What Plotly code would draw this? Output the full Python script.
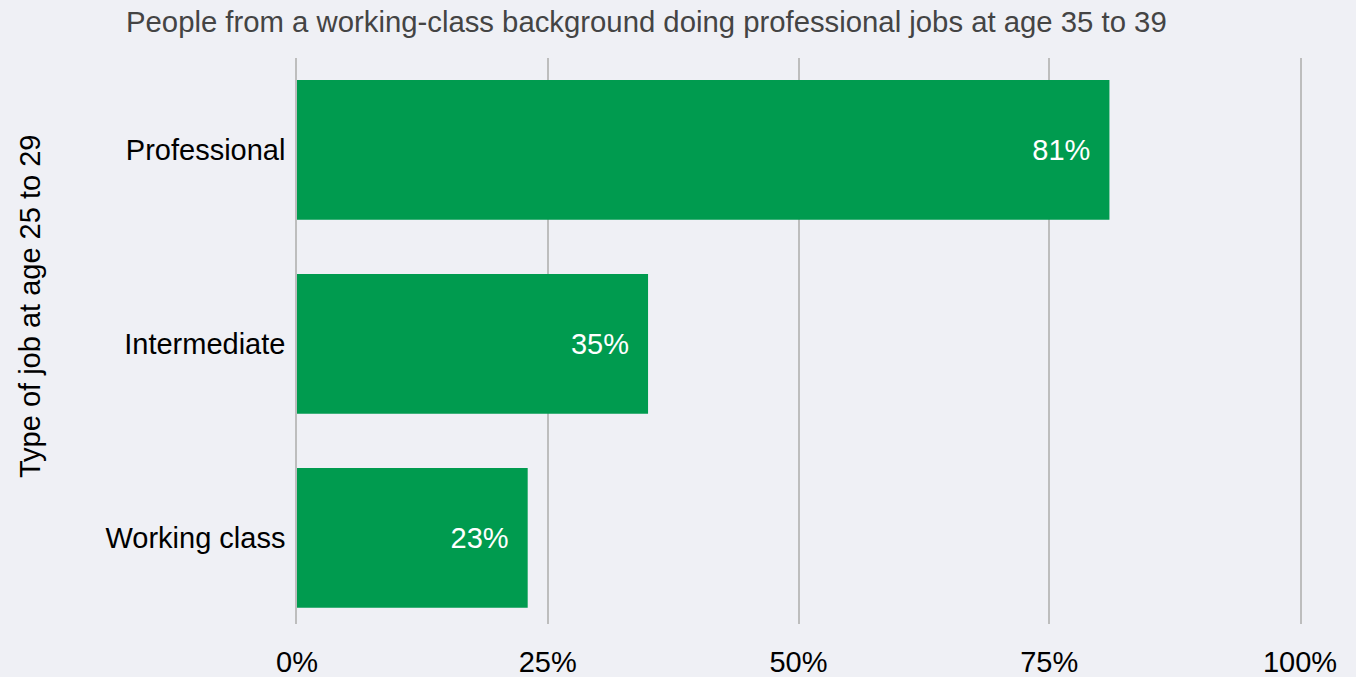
import plotly.graph_objects as go

categories = ['Professional', 'Intermediate', 'Working class']
shares = [81, 35, 23]
tick_vals = [0, 25, 50, 75, 100]
tick_text = ['0%', '25%', '50%', '75%', '100%']

title_text = 'People from a working-class background doing professional jobs at age 35 to 39'
y_title = 'Type of job at age 25 to 29'

font = 'Liberation Sans, Arial, sans-serif'
bg = '#EFF0F5'
grid = '#BDBDBD'

fig = go.Figure(go.Bar(
    x=shares,
    y=categories,
    orientation='h',
    marker=dict(color='#009B4F', line=dict(width=0)),
    text=[f'{v}%\u00a0\u00a0' for v in shares],
    textposition='inside',
    insidetextanchor='end',
    textfont=dict(color='white', size=29, family=font),
    hoverinfo='skip',
))

fig.update_layout(
    width=1356,
    height=677,
    paper_bgcolor=bg,
    plot_bgcolor=bg,
    margin=dict(l=297, r=56, t=58, b=53),
    bargap=0.28,
    showlegend=False,
    font=dict(family=font, size=29, color='black'),
    title=dict(
        text=title_text,
        font=dict(size=29.3, color='#444444', family=font),
        x=126 / 1356, xanchor='left', xref='container',
        y=1 - 22 / 677, yanchor='middle',
    ),
)

fig.update_xaxes(
    range=[0, 100],
    tickvals=tick_vals,
    ticktext=tick_text,
    showgrid=True,
    gridcolor=grid,
    gridwidth=1.5,
    zeroline=False,
    showline=False,
    ticks='',
    ticklabelstandoff=18,
    tickfont=dict(size=29, color='black'),
    automargin=False,
    fixedrange=True,
)
# vertical lines at 0% and 100% (edges of the grid)
fig.update_yaxes(
    range=[2.444, -0.474],
    showgrid=False,
    zeroline=False,
    showline=True,
    mirror=True,
    linecolor=grid,
    linewidth=1.5,
    ticks='',
    ticklabelstandoff=4,
    tickfont=dict(size=29, color='black'),
    automargin=False,
    fixedrange=True,
)

# y-axis title sits a bit above the middle of the plot in the original
fig.add_annotation(
    text=y_title,
    textangle=-90,
    xref='paper', yref='paper',
    x=(30 - 297) / 1003, y=0.56,
    xanchor='center', yanchor='middle',
    showarrow=False,
    font=dict(size=29, color='black', family=font),
)

fig.write_html(
    'out.html',
    config={'displayModeBar': False},
    post_script="document.body.style.margin='0';document.body.style.overflow='hidden';",
)
